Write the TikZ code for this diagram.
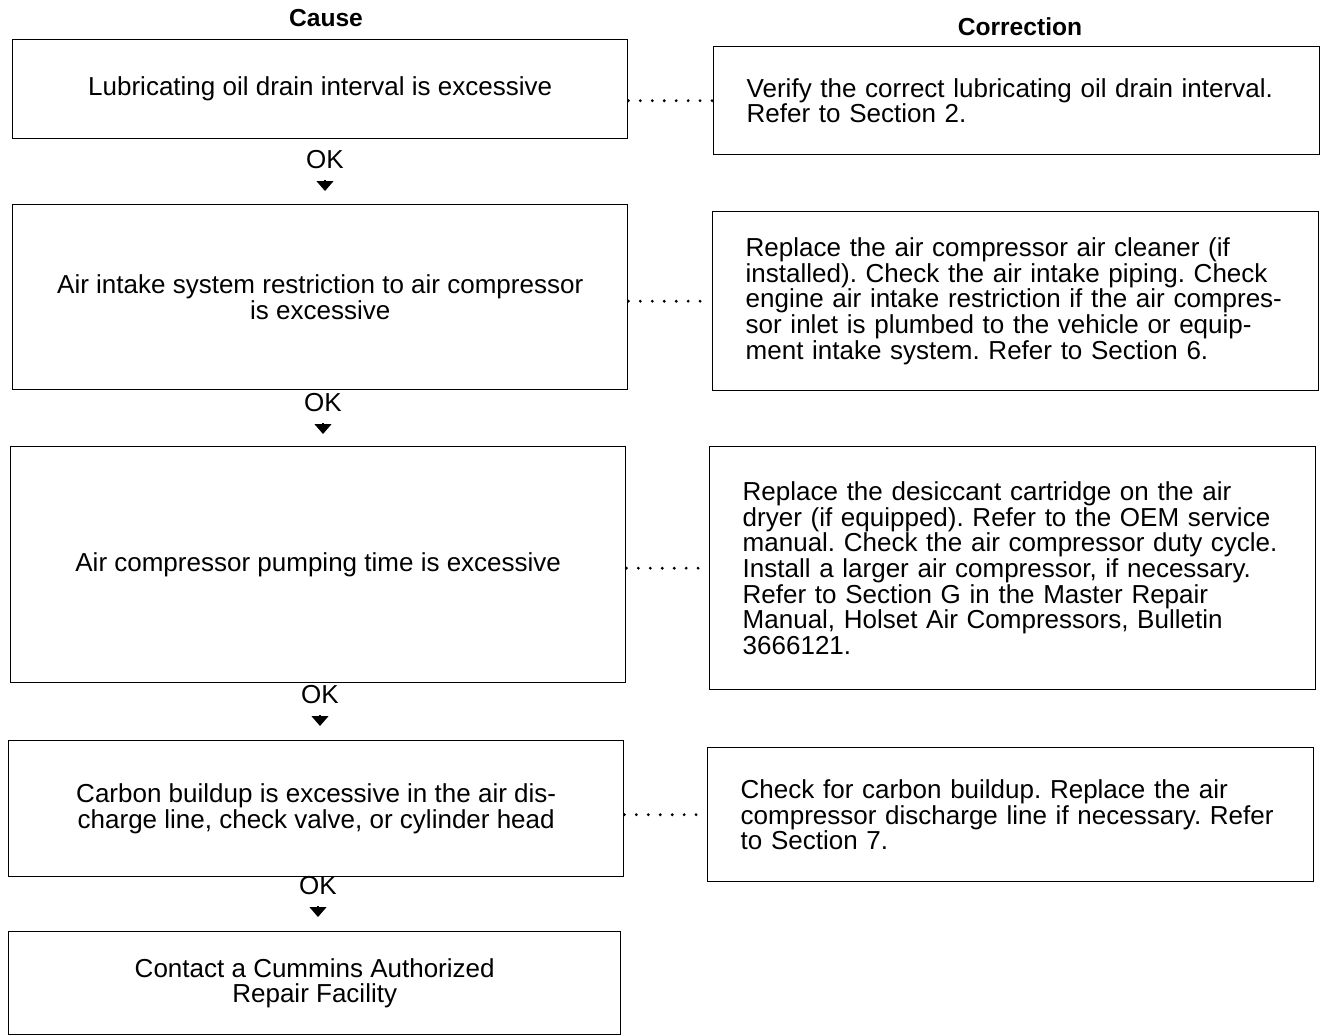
\documentclass[tikz,border=0pt]{standalone}
\usepackage{fontspec}
\setmainfont{Liberation Sans}
\frenchspacing
\usetikzlibrary{arrows.meta,positioning}

\begin{document}
\begin{tikzpicture}[
    cause/.style={draw, line width=0.8pt, anchor=north west,
                  minimum width=12.3cm, align=center,
                  font=\fontsize{14.8}{14.6}\selectfont},
    corr/.style={draw, line width=0.8pt, anchor=north west,
                 minimum width=12.12cm, text width=10.8cm, align=left,
                 font=\fontsize{14.8}{14.6}\selectfont},
    head/.style={font=\fontsize{14}{16}\selectfont\bfseries},
    oklabel/.style={font=\fontsize{14.8}{16}\selectfont, inner sep=0pt},
    okarr/.style={-{Triangle[length=2mm, width=3.4mm]}, line width=0.6pt},
    dots/.style={line width=1.8pt, line cap=round, dash pattern=on 0pt off 6.8pt}
  ]
  \useasboundingbox (0,0) rectangle (26.4,-20.72);
  %% Headers
  \node[head] (hcause) at (6.52,-0.36) {Cause};
  \node[head] (hcorr)  at (20.4,-0.54) {Correction};
  %% Cause boxes
  \node[cause, minimum height=1.98cm] (b1) at (0.24,-0.78)
    {Lubricating oil drain interval is excessive};
  \node[cause, minimum height=3.7cm]  (b2) at (0.24,-4.08)
    {Air intake system restriction to air compressor\\ is excessive};
  \node[cause, minimum height=4.72cm] (b3) at (0.20,-8.92)
    {Air compressor pumping time is excessive};
  \node[cause, minimum height=2.72cm] (b4) at (0.16,-14.80)
    {Carbon buildup is excessive in the air dis-\\ charge line, check valve, or cylinder head};
  \node[cause, minimum height=2.06cm, minimum width=12.24cm] (b5) at (0.16,-18.62)
    {Contact a Cummins Authorized\\ Repair Facility};
  %% Correction boxes
  \node[corr, minimum height=2.16cm] (c1) at (14.26,-0.92)
    {Verify the correct lubricating oil drain interval.\\ Refer to Section 2.};
  \node[corr, minimum height=3.58cm] (c2) at (14.24,-4.22)
    {Replace the air compressor air cleaner (if\\ installed). Check the air intake piping. Check\\
     engine air intake restriction if the air compres-\\ sor inlet is plumbed to the vehicle or equip-\\
     ment intake system. Refer to Section 6.};
  \node[corr, minimum height=4.86cm] (c3) at (14.18,-8.92)
    {Replace the desiccant cartridge on the air\\ dryer (if equipped). Refer to the OEM service\\
     manual. Check the air compressor duty cycle.\\ Install a larger air compressor, if necessary.\\
     Refer to Section G in the Master Repair\\ Manual, Holset Air Compressors, Bulletin\\ 3666121.};
  \node[corr, minimum height=2.68cm] (c4) at (14.14,-14.94)
    {Check for carbon buildup. Replace the air\\ compressor discharge line if necessary. Refer\\ to Section 7.};
  %% Dotted links
  \draw[dots] (b1.east |- c1.west) -- (c1.west);
  \draw[dots] (b2.east |- c2.west) -- (c2.west);
  \draw[dots] (b3.east |- c3.west) -- (c3.west);
  \draw[dots] (b4.east |- c4.west) -- (c4.west);
  %% OK steps
  \node[oklabel] (ok1) at (6.50,-3.20) {OK};
  \node[oklabel] (ok2) at (6.46,-8.06) {OK};
  \node[oklabel] (ok3) at (6.40,-13.90) {OK};
  \node[oklabel] (ok4) at (6.36,-17.72) {OK};
  \coordinate (s1) at (6.50,-3.60);  \coordinate (t1) at (6.50,-3.82);
  \coordinate (s2) at (6.46,-8.46);  \coordinate (t2) at (6.46,-8.68);
  \coordinate (s3) at (6.40,-14.30); \coordinate (t3) at (6.40,-14.52);
  \coordinate (s4) at (6.36,-18.12); \coordinate (t4) at (6.36,-18.34);
  \draw[okarr] (s1) -- (t1);
  \draw[okarr] (s2) -- (t2);
  \draw[okarr] (s3) -- (t3);
  \draw[okarr] (s4) -- (t4);
\end{tikzpicture}
\end{document}
